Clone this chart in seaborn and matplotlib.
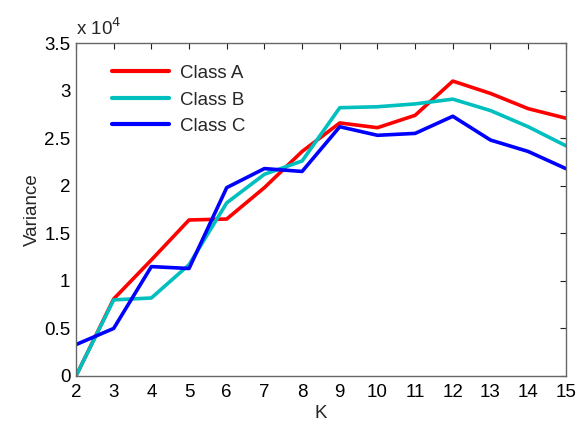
import matplotlib
matplotlib.use("Agg")
import matplotlib.pyplot as plt
import seaborn as sns
import pandas as pd

k_values = [2, 3, 4, 5, 6, 7, 8, 9, 10, 11, 12, 13, 14, 15]
class_a = [0.00, 0.81, 1.22, 1.64, 1.65, 1.98, 2.36, 2.66, 2.61, 2.74, 3.10, 2.97, 2.81, 2.71]
class_b = [0.00, 0.80, 0.82, 1.17, 1.82, 2.12, 2.26, 2.82, 2.83, 2.86, 2.91, 2.79, 2.62, 2.42]
class_c = [0.33, 0.50, 1.15, 1.13, 1.98, 2.18, 2.15, 2.62, 2.53, 2.55, 2.73, 2.48, 2.36, 2.18]
series_names = ["Class A", "Class B", "Class C"]
colors = ["#ff0000", "#00bfbf", "#0000ff"]

df = pd.concat([
    pd.DataFrame({"K": k_values, "Variance": vals, "Series": name})
    for name, vals in zip(series_names, [class_a, class_b, class_c])
])

sns.set_style("white")
plt.rcParams["font.family"] = ["Liberation Sans", "DejaVu Sans"]

fig = plt.figure(figsize=(5.77, 4.28), dpi=100)
ax = fig.add_axes([0.1317, 0.1215, 0.849, 0.778])

sns.lineplot(data=df, x="K", y="Variance", hue="Series", palette=colors,
             linewidth=2.6, ax=ax, sort=False)

ax.set_xlim(2, 15)
ax.set_ylim(0, 3.5)
ax.set_xticks(k_values)
ax.set_yticks([0, 0.5, 1, 1.5, 2, 2.5, 3, 3.5])
ax.set_yticklabels(["0", "0.5", "1", "1.5", "2", "2.5", "3", "3.5"])
ax.tick_params(direction="in", top=True, right=True, length=4, width=0.8,
               labelsize=13.5, colors="#222222", labelcolor="black")
ax.tick_params(axis="x", pad=6)
ax.tick_params(axis="y", pad=4)
for s in ax.spines.values():
    s.set_color("#666666")
    s.set_linewidth(1.0)
    s.set_visible(True)

ax.set_xlabel("K", fontsize=13.5, labelpad=3)
ax.set_ylabel("Variance", fontsize=13.5, labelpad=2)
ax.text(0.0, 1.012, r"x 10$^{4}$", transform=ax.transAxes, fontsize=13.5,
        ha="left", va="bottom")

leg = ax.legend(loc="upper left", bbox_to_anchor=(0.04, 0.985), frameon=False,
                fontsize=13.5, handlelength=3.0, handletextpad=0.6,
                labelspacing=0.5)
for line in leg.get_lines():
    line.set_linewidth(3)

fig.savefig("out.png", dpi=100)
